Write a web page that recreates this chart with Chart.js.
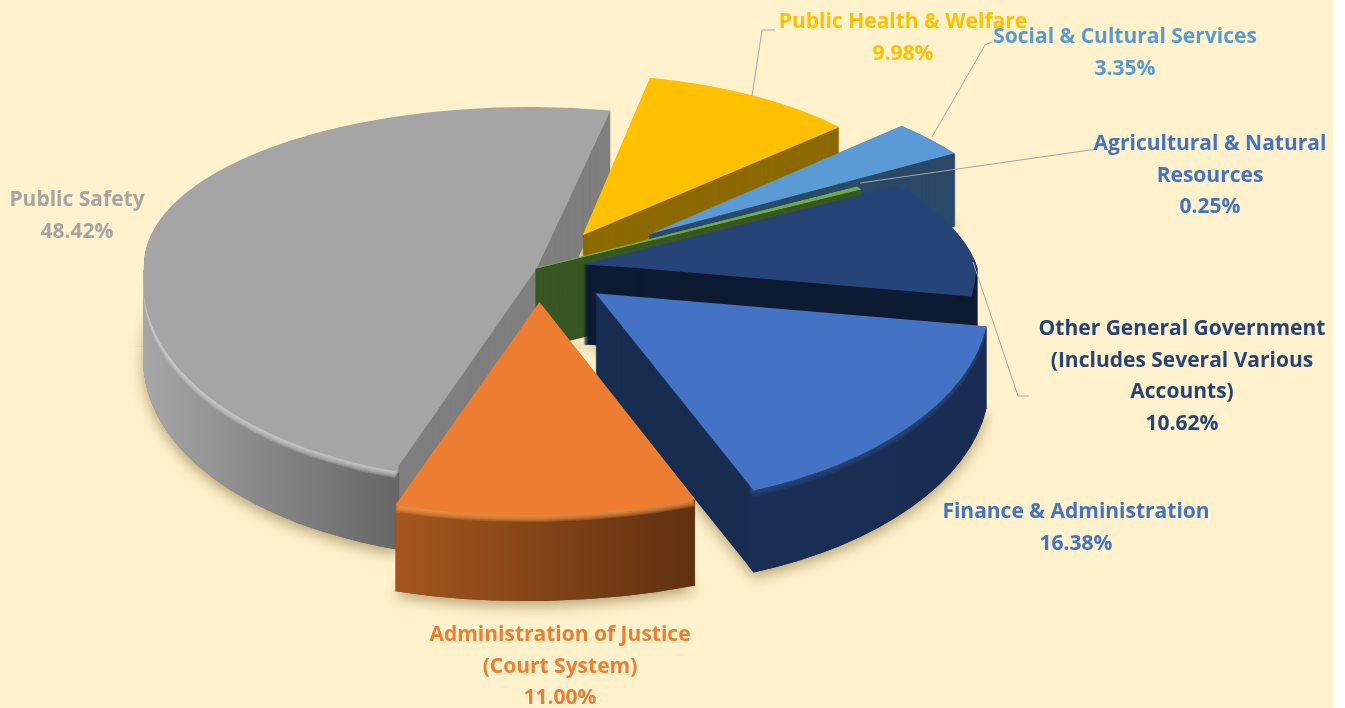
<!DOCTYPE html>
<html><head><meta charset="utf-8">
<style>html,body{margin:0;padding:0;background:#fff;overflow:hidden}canvas{display:block}</style>
<script src="https://cdn.jsdelivr.net/npm/chart.js@4"></script>
</head><body>
<canvas id="c" width="1345" height="708"></canvas>
<script>
// ---- data ----
const categories = ['Public Safety','Public Health & Welfare','Social & Cultural Services','Agricultural & Natural Resources','Other General Government (Includes Several Various Accounts)','Finance & Administration','Administration of Justice (Court System)'];
const shares = [48.42, 9.98, 3.35, 0.25, 10.62, 16.38, 11.00];
const labelLines = [['Public Safety'],['Public Health & Welfare'],['Social & Cultural Services'],['Agricultural & Natural','Resources'],['Other General Government','(Includes Several Various','Accounts)'],['Finance & Administration'],['Administration of Justice','(Court System)']];
// ---- styles ----
const topColors  = ['#A5A5A5','#FFC000','#5B9BD5','#70AD47','#264478','#4472C4','#ED7D31'];
const cutColors  = ['#7F7F7F','#8C6A00','#2B4A69','#385723','#0D1B33','#182C50','#8A4A1C'];
const wallLeft   = ['#A8A8A8','#8C6A00','#2B4A69','#385723','#0D1B33','#1A2E54','#A5561E'];
const wallRight  = ['#676767','#7F6000','#2B4A69','#385723','#0D1B33','#182C50','#5E300F'];
const rimColors  = ['#D0D0D0','#FFC000','#5B9BD5','#70AD47','#0D1B33','#2A4880','#F8994F'];
const textColors = ['#A5A5A5','#FFC000','#5B9BD5','#4472C4','#264478','#4472C4','#ED7D31'];
const explode    = [0, 0.234, 0.356, 0, 0.12, 0.19, 0.16];
const scaleXs    = [1, 0.894, 0.953, 1, 1, 1.003, 1.127];
const shearTop   = [0.044, 0.029, 0.235, 0.25, 0.367, 0, 0];
const shearBot   = [-0.118, 0, 0, 0, 0, 0.05, -0.055];
const depths     = [78, 80, 73, 80, 80, 82, 86];
const bodyStroke = [0, 0, 1.5, 2.5, 0, 0, 0];
const topStroke  = [0, 0, 0, 1.5, 0, 0, 0];
const labelCenters = [[77,200],[903,22],[1125,37],[1210,144],[1182,329],[1076,512],[560,635]];
const leaders = [[[752,96],[762,30],[775,30]],[[932,137],[985,45],[992,42]],[[860,183],[1090,150],[1096,150]],[[973,262],[1018,396],[1029,396]]];

const CX = 537, CY = 268, RX = 393, KTOP = 161/393, KBOT = 213/393;

function drawAt(ctx, arc, i, depth, fill, border, frontOnly){
  const sx = RX / arc.baseR;
  const ef = explode[i];
  const e = ef * arc.baseR;
  const mid = (arc.startAngle + arc.endAngle) / 2;
  const saved = arc.options;
  arc.options = {backgroundColor:fill,borderColor:fill,borderWidth:border||0,offset:0,spacing:0,circular:true,borderRadius:0,borderAlign:'center',borderJoinStyle:'round',selfJoin:false};
  [[KTOP,shearTop[i],-1],[KBOT,shearBot[i],1]].forEach(([k,sh,side])=>{
    if(frontOnly && side<0) return;
    const a = scaleXs[i]*sx, d = k*sx, c = sh*d;
    const ox = arc.x + Math.cos(mid)*e, oy = arc.y + Math.sin(mid)*e;
    const ax = CX + RX*ef*Math.cos(mid), ay = CY + depth + k*RX*ef*Math.sin(mid);
    ctx.save();
    ctx.beginPath();
    if(side<0) ctx.rect(0,0,1345,CY+depth+0.6); else ctx.rect(0,CY+depth,1345,708);
    ctx.clip();
    ctx.setTransform(a,0,c,d,ax-a*ox-c*oy,ay-d*oy);
    ctx.translate(Math.cos(mid)*e,Math.sin(mid)*e);
    arc.draw(ctx);
    ctx.restore();
  });
  arc.options = saved;
}

const pie3d = {
  id:'pie3d',
  beforeDraw(chart){
    const ctx = chart.ctx;
    ctx.save();
    ctx.fillStyle='#FFF2CC';
    ctx.fillRect(0,0,1333,708);
    ctx.restore();
  },
  beforeDatasetsDraw(chart){
    const ctx = chart.ctx;
    const arcs = chart.getDatasetMeta(0).data;
    arcs.forEach((arc,i)=>{
      const outer = arc.outerRadius, inner = arc.innerRadius, D = depths[i];
      arc.baseR = outer;
      // soft ground shadow under the deepest layer
      ctx.save();
      ctx.shadowColor='rgba(120,100,50,0.55)';ctx.shadowBlur=14;ctx.shadowOffsetY=5;
      drawAt(ctx,arc,i,D,cutColors[i],bodyStroke[i]);
      ctx.restore();
      // solid body: the cut faces
      for(let d=D-1;d>=1;d--) drawAt(ctx,arc,i,d,cutColors[i],bodyStroke[i]);
      // the curved outer wall, front half only
      const e = explode[i]*outer;
      const mid=(arc.startAngle+arc.endAngle)/2;
      const a0=arc.startAngle,a1=arc.endAngle;
      const xs=[];
      for(let t=0;t<=20;t++){
        const an=a0+(a1-a0)*t/20;
        if(Math.sin(an)>=0) xs.push(arc.x+Math.cos(mid)*e+Math.cos(an)*outer);
      }
      if(xs.length>1){
        const grad = ctx.createLinearGradient(Math.min(...xs),0,Math.max(...xs),0);
        grad.addColorStop(0,wallLeft[i]);grad.addColorStop(1,wallRight[i]);
        arc.innerRadius = outer-10;
        for(let d=D;d>=1;d--) drawAt(ctx,arc,i,d,grad,0,true);
        // soft bevel along the top of the wall
        ctx.save();
        ctx.globalAlpha=0.22;
        for(let d=7;d>=1;d--) drawAt(ctx,arc,i,d,rimColors[i],0,true);
        ctx.restore();
        arc.innerRadius = inner;
      }
      // top face
      drawAt(ctx,arc,i,0,topColors[i],topStroke[i]);
    });
    return false;
  },
  afterDraw(chart){
    const ctx = chart.ctx;
    ctx.save();
    ctx.strokeStyle='#A6A6A6';ctx.lineWidth=1;
    leaders.forEach(p=>{ctx.beginPath();p.forEach((q,j)=>j?ctx.lineTo(q[0],q[1]):ctx.moveTo(q[0],q[1]));ctx.stroke();});
    ctx.font='700 21px "Open Sans"';
    ctx.textAlign='center';ctx.textBaseline='middle';
    labelLines.forEach((lines,i)=>{
      ctx.fillStyle=textColors[i];
      const [x,y]=labelCenters[i];
      lines.concat(shares[i].toFixed(2)+'%').forEach((t,j)=>ctx.fillText(t,x,y+j*31.7));
    });
    ctx.restore();
  }
};

new Chart(document.getElementById('c'),{
  type:'pie',
  data:{labels:categories,datasets:[{data:shares,backgroundColor:topColors,borderWidth:0,hoverOffset:0}]},
  options:{responsive:false,animation:false,rotation:197.5,radius:300,
    layout:{padding:0},events:[],
    plugins:{legend:{display:false},tooltip:{enabled:false}}},
  plugins:[pie3d]
});
</script>
</body></html>
